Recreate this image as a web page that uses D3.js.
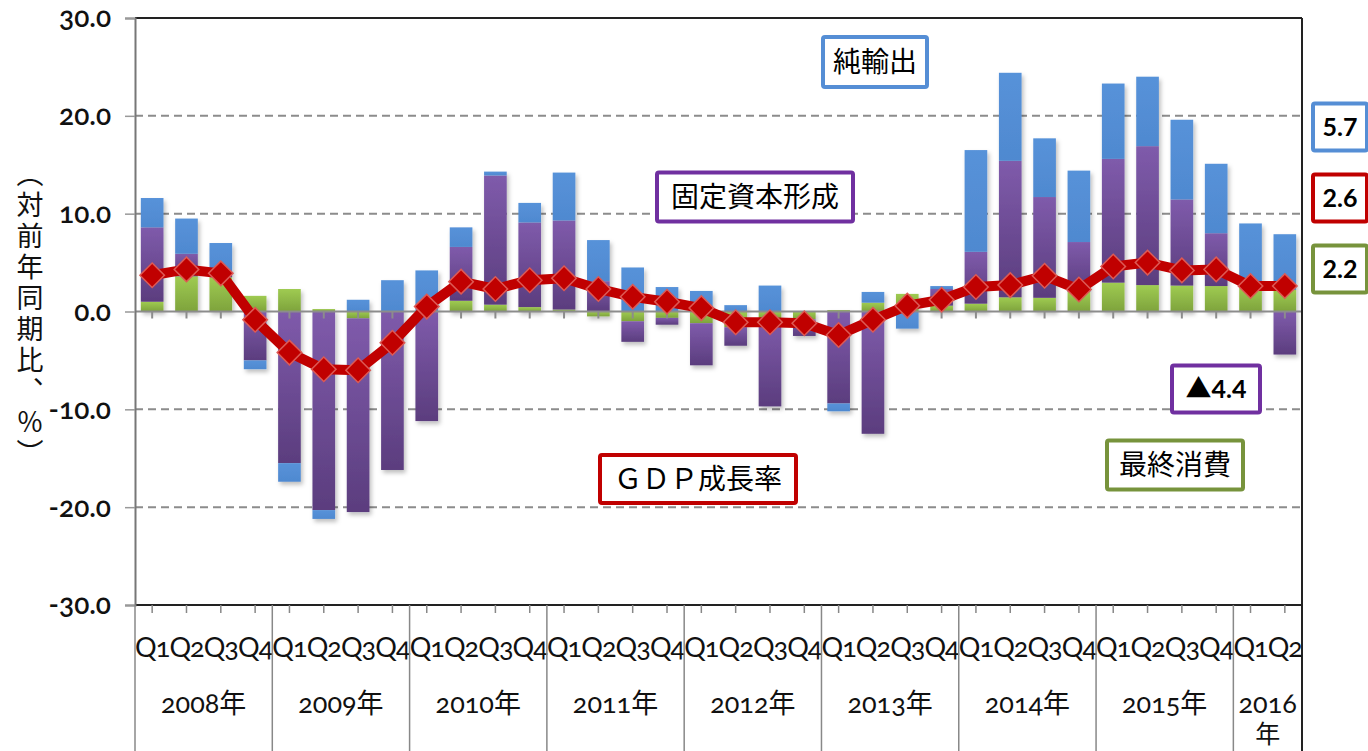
<!DOCTYPE html>
<html>
<head>
<meta charset="utf-8">
<script src="https://cdn.jsdelivr.net/npm/d3@7"></script>
<style>
  body { margin: 0; background: #fff; }
  svg { display: block; }
</style>
</head>
<body>
<div id="chart"></div>
<script>
// quarters 2008Q1 .. 2016Q2
var years = ["2008", "2009", "2010", "2011", "2012", "2013", "2014", "2015", "2016"];
var quarterNames = ["Q1", "Q2", "Q3", "Q4"];

// 最終消費 (green)
var consumption = [1.0, 3.6, 3.5, 1.6,  2.3, 0.25, -0.7, 0,  0, 1.1, 0.7, 0.45,
                   0.2, -0.5, -1.0, -0.65,  -1.2, -1.6, -0.7, -0.8,  0.15, 0.9, 1.8, 0.6,
                   0.8, 1.45, 1.4, 2.0,  2.95, 2.7, 2.65, 2.6,  2.6, 2.2];
// 固定資本形成 (purple)
var investment = [7.6, 2.3, 0.3, -5.0,  -15.5, -20.3, -19.8, -16.2,  -11.2, 5.5, 13.2, 8.65,
                  9.1, 3.1, -2.1, -0.7,  -4.3, -1.9, -9.0, -1.7,  -9.4, -12.5, 0, 1.7,
                  5.3, 13.95, 10.3, 5.1,  12.65, 14.2, 8.8, 5.4,  0, -4.4];
// 純輸出 (blue)
var netExports = [3.0, 3.6, 3.2, -0.9,  -1.9, -0.9, 1.2, 3.2,  4.2, 2.0, 0.4, 2.0,
                  4.9, 4.2, 4.5, 2.5,  2.1, 0.65, 2.65, 0,  -0.8, 1.1, -1.75, 0.3,
                  10.4, 9.0, 6.0, 7.3,  7.7, 7.1, 8.15, 7.1,  6.4, 5.7];
// GDP成長率 (red line)
var gdp = [3.7, 4.3, 3.9, -0.85,  -4.2, -5.9, -6.0, -3.2,  0.5, 3.05, 2.3, 3.2,
           3.4, 2.3, 1.5, 1.0,  0.35, -1.1, -1.1, -1.2,  -2.4, -0.85, 0.6, 1.2,
           2.5, 2.7, 3.65, 2.25,  4.6, 5.0, 4.2, 4.3,  2.6, 2.6];

var yTicks = [30, 20, 10, 0, -10, -20, -30];

var data = gdp.map(function(v, i) {
  return {
    id: i,
    year: years[Math.floor(i / 4)],
    q: quarterNames[i % 4],
    consumption: consumption[i],
    investment: investment[i],
    netExports: netExports[i],
    gdp: v
  };
});

var W = 1368, H = 751,
    margin = {top: 18, right: 66, bottom: 146, left: 135},
    width = W - margin.left - margin.right,
    height = H - margin.top - margin.bottom;

var svg = d3.select("#chart").append("svg")
    .attr("width", W)
    .attr("height", H);

var defs = svg.append("defs");

function vGrad(id, top, bottom) {
  var g = defs.append("linearGradient").attr("id", id)
      .attr("x1", 0).attr("y1", 0).attr("x2", 0).attr("y2", 1);
  g.append("stop").attr("offset", "0%").attr("stop-color", top);
  g.append("stop").attr("offset", "100%").attr("stop-color", bottom);
}
vGrad("gGreen", "#9fcb52", "#7ea33c");
vGrad("gPurple", "#7f5bab", "#5b3d7e");
vGrad("gBlue", "#5792d9", "#4f89d0");

var shadow = defs.append("filter").attr("id", "shadow")
    .attr("x", "-20%").attr("y", "-20%").attr("width", "150%").attr("height", "150%");
shadow.append("feDropShadow")
    .attr("dx", 2).attr("dy", 3).attr("stdDeviation", 2)
    .attr("flood-color", "#000").attr("flood-opacity", 0.25);

var x = d3.scaleBand()
    .domain(data.map(function(d) { return d.id; }))
    .range([0, width])
    .paddingInner(0.34)
    .paddingOuter(0.17);

var y = d3.scaleLinear()
    .domain([-30, 30])
    .range([height, 0]);

var keys = ["consumption", "investment", "netExports"];
var fills = {consumption: "url(#gGreen)", investment: "url(#gPurple)", netExports: "url(#gBlue)"};

var g = svg.append("g").attr("transform", "translate(" + margin.left + "," + margin.top + ")");

// dashed grid
g.append("g")
  .selectAll("line")
  .data(yTicks.filter(function(t) { return t !== 0 && Math.abs(t) !== 30; }))
  .enter().append("line")
    .attr("x1", 0).attr("x2", width)
    .attr("y1", function(d) { return y(d); })
    .attr("y2", function(d) { return y(d); })
    .attr("stroke", "#8c8c8c")
    .attr("stroke-width", 2)
    .attr("stroke-dasharray", "8,5");

// stacked bars
g.append("g")
    .attr("filter", "url(#shadow)")
  .selectAll("g")
  .data(d3.stack().keys(keys).offset(d3.stackOffsetDiverging)(data))
  .enter().append("g")
    .attr("fill", function(d) { return fills[d.key]; })
  .selectAll("rect")
  .data(function(d) { return d; })
  .enter().append("rect")
    .attr("x", function(d) { return x(d.data.id); })
    .attr("y", function(d) { return y(Math.max(d[0], d[1])); })
    .attr("height", function(d) { return Math.abs(y(d[0]) - y(d[1])); })
    .attr("width", x.bandwidth());

// zero line with ticks
var zero = g.append("g").attr("transform", "translate(0," + y(0) + ")");
zero.append("line").attr("x1", 0).attr("x2", width)
    .attr("stroke", "#8c8c8c").attr("stroke-width", 2);
zero.selectAll("line.tk")
  .data(data)
  .enter().append("line")
    .attr("class", "tk")
    .attr("x1", function(d) { return x(d.id) + x.bandwidth() / 2; })
    .attr("x2", function(d) { return x(d.id) + x.bandwidth() / 2; })
    .attr("y1", 0).attr("y2", 7)
    .attr("stroke", "#8c8c8c").attr("stroke-width", 2);

// GDP line
var cx = function(d) { return x(d.id) + x.bandwidth() / 2; };
g.append("path")
    .datum(data)
    .attr("fill", "none")
    .attr("stroke", "#c00000")
    .attr("stroke-width", 10)
    .attr("stroke-linejoin", "round")
    .attr("d", d3.line().x(cx).y(function(d) { return y(d.gdp); }));

g.append("g")
  .selectAll("path")
  .data(data)
  .enter().append("path")
    .attr("transform", function(d) { return "translate(" + cx(d) + "," + y(d.gdp) + ") rotate(45)"; })
    .attr("d", d3.symbol().type(d3.symbolSquare).size(300))
    .attr("fill", "#c00000")
    .attr("stroke", "#dd5a55")
    .attr("stroke-width", 1.5);

// frame
g.append("line").attr("x1", 0).attr("x2", width).attr("y1", 0).attr("y2", 0)
    .attr("stroke", "#222").attr("stroke-width", 2);
g.append("line").attr("x1", width).attr("x2", width).attr("y1", 0).attr("y2", H - margin.top)
    .attr("stroke", "#222").attr("stroke-width", 2);
g.append("line").attr("x1", 0).attr("x2", width).attr("y1", height).attr("y2", height)
    .attr("stroke", "#222").attr("stroke-width", 2);

// y axis
var fmt = d3.format(".1f");
var yAxis = g.append("g")
    .call(d3.axisLeft(y).tickValues(yTicks).tickSize(10)
      .tickFormat(function(d) { return fmt(d).replace("\u2212", "-"); }));
yAxis.select(".domain").attr("stroke", "#777").attr("stroke-width", 2);
yAxis.selectAll(".tick line").attr("stroke", "#999").attr("stroke-width", 1.5);
yAxis.selectAll("text")
    .attr("x", -24)
    .attr("fill", "#111")
    .style("font-family", "Lato, 'Noto Sans', sans-serif")
    .style("font-size", "28px")
    .style("font-weight", "600")
    .style("font-variant-numeric", "oldstyle-nums");

svg.append("text")
    .attr("x", 30)
    .attr("y", 160)
    .style("writing-mode", "vertical-rl")
    .style("font-family", "'Noto Sans CJK JP', sans-serif")
    .style("font-size", "27px")
    .style("letter-spacing", "4px")
    .attr("fill", "#111")
    .text("（対前年同期比、％）");

// x axis: quarter ticks, labels, year separators
var xa = g.append("g").attr("transform", "translate(0," + height + ")");
xa.selectAll("line.qt")
  .data(data)
  .enter().append("line")
    .attr("class", "qt")
    .attr("x1", cx).attr("x2", cx)
    .attr("y1", 0).attr("y2", 8)
    .attr("stroke", "#888").attr("stroke-width", 1.5);

xa.selectAll("text.q")
  .data(data)
  .enter().append("text")
    .attr("class", "q")
    .attr("x", cx)
    .attr("y", 52)
    .attr("text-anchor", "middle")
    .style("font-family", "Lato, 'Noto Sans', sans-serif")
    .style("font-size", "27px")
    .style("letter-spacing", "-1px")
    .style("font-variant-numeric", "oldstyle-nums")
    .attr("fill", "#111")
    .text(function(d) { return d.q; });

var yearSpans = years.map(function(yr) {
  var ids = data.filter(function(d) { return d.year === yr; }).map(function(d) { return d.id; });
  var x0 = x(ids[0]) - x.step() * x.paddingInner() / 2;
  var x1 = x(ids[ids.length - 1]) + x.bandwidth() + x.step() * x.paddingInner() / 2;
  return {year: yr, n: ids.length, x0: x0, x1: x1};
});

xa.selectAll("line.ys")
  .data(yearSpans)
  .enter().append("line")
    .attr("class", "ys")
    .attr("x1", function(d) { return d.x0; })
    .attr("x2", function(d) { return d.x0; })
    .attr("y1", 0).attr("y2", margin.bottom)
    .attr("stroke", "#888").attr("stroke-width", 1.5);

var yl = xa.selectAll("text.yr")
  .data(yearSpans)
  .enter().append("text")
    .attr("class", "yr")
    .attr("text-anchor", "middle")
    .style("font-family", "Lato, 'Noto Sans CJK JP', sans-serif")
    .style("font-size", "27px")
    .style("font-variant-numeric", "oldstyle-nums")
    .attr("fill", "#111");
yl.filter(function(d) { return d.n === 4; })
    .attr("x", function(d) { return (d.x0 + d.x1) / 2; })
    .attr("y", 108)
    .text(function(d) { return d.year + "年"; });
yl.filter(function(d) { return d.n < 4; })
    .each(function(d) {
      var t = d3.select(this);
      var mx = (d.x0 + d.x1) / 2;
      t.append("tspan").attr("x", mx).attr("y", 108).text(d.year);
      t.append("tspan").attr("x", mx).attr("y", 138).style("font-size", "25px").text("年");
    });

// annotation boxes
function labelBox(cxp, cyp, w, h, color, txt, opts) {
  var b = svg.append("g").attr("transform", "translate(" + cxp + "," + cyp + ")");
  b.append("rect")
      .attr("x", -w / 2).attr("y", -h / 2)
      .attr("width", w).attr("height", h)
      .attr("rx", 2)
      .attr("fill", "#fff")
      .attr("stroke", color)
      .attr("stroke-width", 4);
  var t = b.append("text")
      .attr("text-anchor", "middle")
      .attr("dy", "0.35em")
      .style("font-family", opts.font)
      .style("font-size", opts.size + "px")
      .style("font-weight", opts.weight || "normal")
      .attr("fill", "#000");
  if (txt.charAt(0) === "▲") {
    t.append("tspan").style("font-family", "'Noto Sans CJK JP', sans-serif")
        .style("font-size", "26px").text("▲");
    t.append("tspan").text(txt.slice(1));
  } else {
    t.text(txt);
  }
}
var cjk = {font: "'Noto Sans CJK JP', sans-serif", size: 28};
var num = {font: "Lato, 'Noto Sans', sans-serif", size: 25, weight: "bold"};

labelBox(875, 62, 104, 50, "#558ed5", "純輸出", cjk);
labelBox(755, 197, 196, 49, "#7030a0", "固定資本形成", cjk);
labelBox(698, 479, 196, 48, "#c00000", "ＧＤＰ成長率", cjk);
labelBox(1175, 465, 136, 49, "#77933c", "最終消費", cjk);
labelBox(1216, 389, 88, 47, "#7030a0", "▲4.4", num);
labelBox(1340, 127, 54, 47, "#558ed5", "5.7", num);
labelBox(1340, 198, 54, 47, "#c00000", "2.6", num);
labelBox(1340, 269, 54, 47, "#77933c", "2.2", num);
</script>
</body>
</html>
